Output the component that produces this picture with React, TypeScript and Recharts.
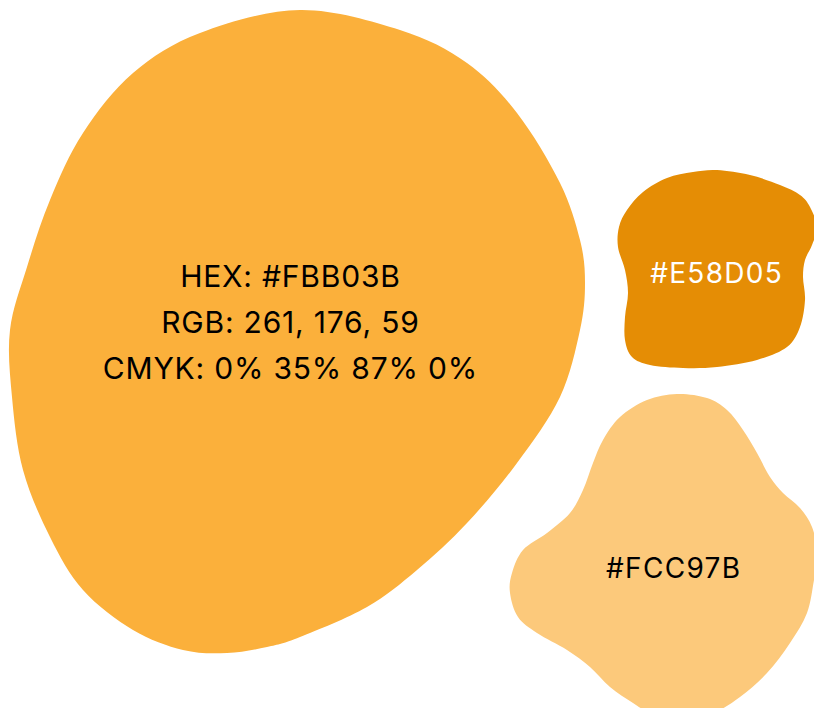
import React from 'react';
import { ScatterChart, Scatter, XAxis, YAxis, Cell } from 'recharts';

// ---- data ----
const swatchNames = ['primary', 'dark', 'light'];
const swatchHex = ['#FBB03B', '#E58D05', '#FCC97B'];
const swatchX = [290, 716, 673];
const swatchY = [322, 273, 568];
const swatchLabels: string[][] = [
  ['HEX: #FBB03B', 'RGB: 261, 176, 59', 'CMYK: 0% 35% 87% 0%'],
  ['#E58D05'],
  ['#FCC97B'],
];

// ---- styles ----
const CHART_W = 814;
const CHART_H = 708;
const X_DOMAIN: [number, number] = [0, 814];
const Y_DOMAIN: [number, number] = [0, 708];
const labelColors = ['#000000', '#FFFFFF', '#000000'];
const labelSizes = [30, 28, 28];
const labelSpacing = [0.8, 1.3, 1.3];
const lineGap = 46.3;

// blob outlines: offsets from each swatch centre (axis units)
const blobOutlines: [number, number][][] = [
  [
    [10, -312], [110, -292], [177, -259], [227, -209], [270, -139], [290, -82], [295, -39],
    [290, 8], [270, 75], [227, 141], [177, 201], [127, 248], [77, 285], [10, 315], [-23, 325],
    [-63, 331], [-107, 328], [-157, 308], [-207, 268], [-240, 215], [-267, 148], [-278, 75],
    [-280, 8], [-263, -55], [-240, -122], [-207, -189], [-157, -249], [-90, -289],
  ],
  [
    [1, -103], [34, -98], [64, -88], [84, -78], [94, -66], [101, -46], [96, -28], [89, -13],
    [87, 4], [89, 27], [84, 54], [71, 74], [41, 87], [1, 94], [-33, 95], [-66, 92], [-84, 84],
    [-91, 67], [-91, 44], [-88, 20], [-91, -3], [-98, -26], [-97, -46], [-89, -63], [-73, -81],
    [-49, -95], [-23, -101],
  ],
  [
    [4, -174], [34, -170], [54, -158], [70, -138], [84, -115], [97, -91], [110, -75], [127, -60],
    [139, -41], [145, -13], [141, 12], [134, 45], [117, 75], [94, 105], [67, 129], [42, 144],
    [12, 150], [-23, 144], [-40, 135], [-63, 119], [-83, 99], [-106, 82], [-136, 65], [-155, 49],
    [-163, 25], [-161, 5], [-150, -18], [-126, -35], [-103, -55], [-90, -78], [-80, -105],
    [-70, -128], [-53, -151], [-26, -168],
  ],
];

const data = swatchNames.map((name, i) => ({
  name,
  hex: swatchHex[i],
  x: swatchX[i],
  y: swatchY[i],
  idx: i,
}));

function smoothClosedPath(pts: [number, number][]): string {
  const n = pts.length;
  let d = `M${pts[0][0]},${pts[0][1]}`;
  for (let i = 0; i < n; i++) {
    const p0 = pts[(i - 1 + n) % n];
    const p1 = pts[i];
    const p2 = pts[(i + 1) % n];
    const p3 = pts[(i + 2) % n];
    const c1x = p1[0] + (p2[0] - p0[0]) / 6;
    const c1y = p1[1] + (p2[1] - p0[1]) / 6;
    const c2x = p2[0] - (p3[0] - p1[0]) / 6;
    const c2y = p2[1] - (p3[1] - p1[1]) / 6;
    d += ` C${c1x},${c1y} ${c2x},${c2y} ${p2[0]},${p2[1]}`;
  }
  return d + ' Z';
}

const kx = CHART_W / (X_DOMAIN[1] - X_DOMAIN[0]);
const ky = CHART_H / (Y_DOMAIN[1] - Y_DOMAIN[0]);

const BlobShape = (props: any) => {
  const { cx, cy, payload } = props;
  const i = payload.idx;
  const pts = blobOutlines[i].map(([dx, dy]) => [cx + dx * kx, cy + dy * ky] as [number, number]);
  const lines = swatchLabels[i];
  const fs = labelSizes[i];
  const capHalf = fs * 0.364;
  const ls = labelSpacing[i];
  return (
    <g>
      <path d={smoothClosedPath(pts)} fill={payload.hex} stroke="none" />
      {lines.map((t, j) => (
        <text
          key={j}
          x={cx + ls / 2}
          y={cy + capHalf + (j - (lines.length - 1) / 2) * lineGap}
          textAnchor="middle"
          fontFamily="Inter, 'Open Sans', sans-serif"
          fontSize={fs}
          letterSpacing={ls}
          fill={labelColors[i]}
        >
          {t}
        </text>
      ))}
    </g>
  );
};

export default function App() {
  return (
    <div style={{ position: 'absolute', left: 0, top: 0, width: CHART_W, height: CHART_H, background: '#FFFFFF' }}>
      <ScatterChart width={CHART_W} height={CHART_H} margin={{ top: 0, right: 0, bottom: 0, left: 0 }}>
        <XAxis type="number" dataKey="x" domain={X_DOMAIN} hide />
        <YAxis type="number" dataKey="y" domain={Y_DOMAIN} reversed hide />
        <Scatter data={data} shape={<BlobShape />} isAnimationActive={false}>
          {data.map((d) => (
            <Cell key={d.name} fill={d.hex} />
          ))}
        </Scatter>
      </ScatterChart>
    </div>
  );
}
